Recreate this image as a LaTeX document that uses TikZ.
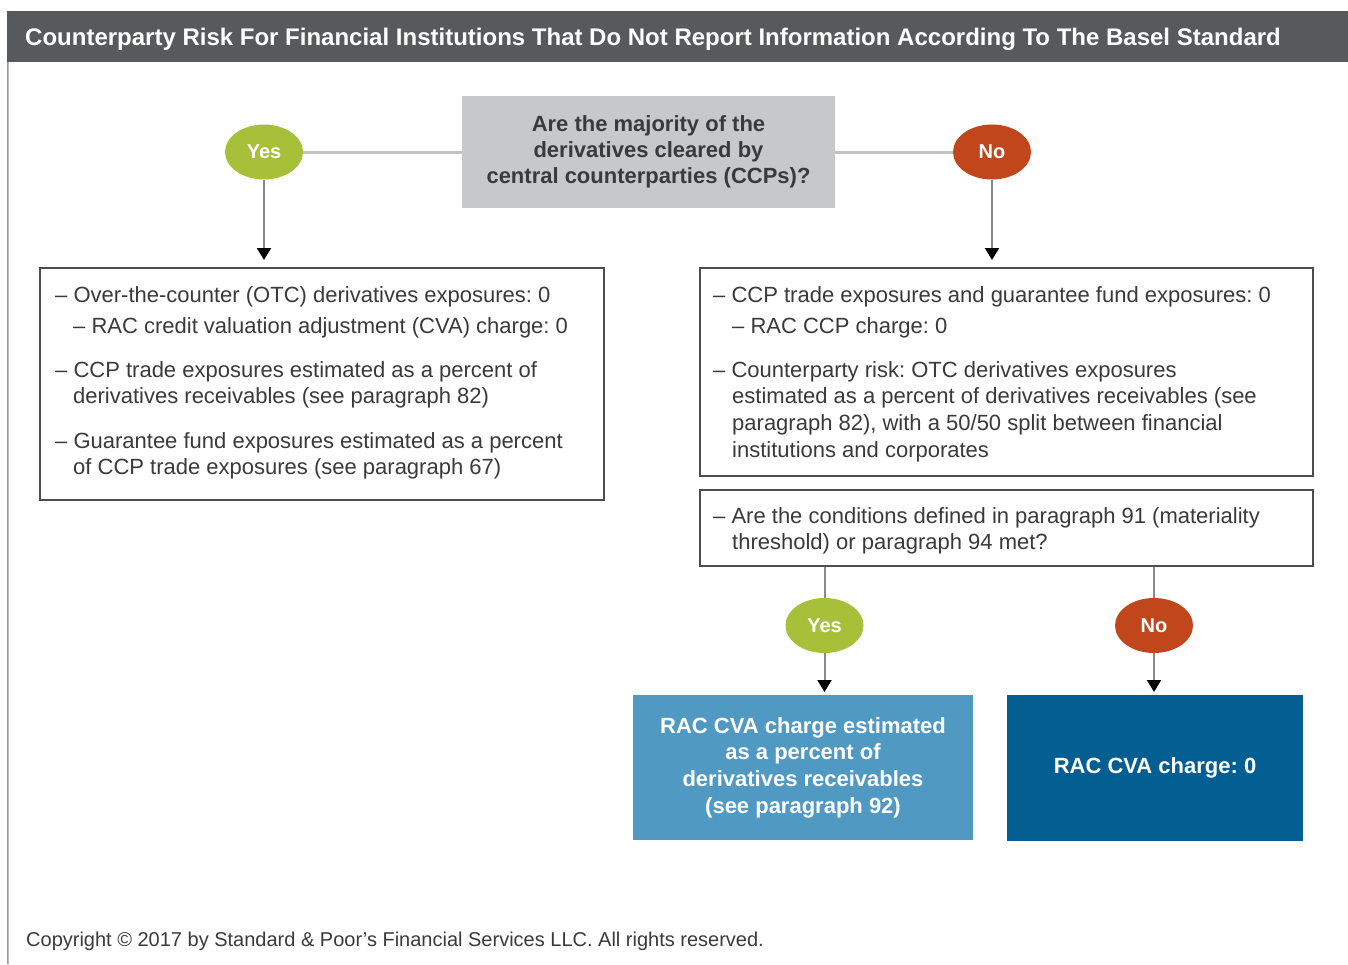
\documentclass[tikz,border=0pt]{standalone}
\usepackage{fontspec}
\setmainfont{Liberation Sans}
\frenchspacing
\usetikzlibrary{shapes.geometric,arrows.meta}
\definecolor{titlegray}{HTML}{58595B}
\definecolor{qgray}{HTML}{C7C8CA}
\definecolor{yesgreen}{HTML}{A6C03A}
\definecolor{nored}{HTML}{C1461B}
\definecolor{lightblue}{HTML}{4F99C3}
\definecolor{darkblue}{HTML}{035E91}
\definecolor{txtgray}{HTML}{3A3A3A}
\definecolor{boxgray}{HTML}{4D4D4D}
\definecolor{linkgray}{HTML}{C2C2C2}
\definecolor{arrgray}{HTML}{8A8A8A}
\begin{document}
\begin{tikzpicture}[x=1pt,y=-1pt,
  txt/.style={font=\fontsize{22}{26}\selectfont, text=txtgray, inner sep=0pt, anchor=base west},
  tbox/.style={draw=boxgray, line width=1.5pt, fill=white, inner sep=0pt},
  yesc/.style={ellipse, fill=yesgreen, minimum width=78pt, minimum height=55pt, inner sep=0pt, text=white, font=\bfseries\fontsize{20}{24}\selectfont},
  noc/.style={yesc, fill=nored},
  link/.style={draw=linkgray, line width=3pt},
  arr/.style={draw=arrgray, line width=2pt, -{Triangle[width=14pt,length=12pt,color=black]}},
  fbox/.style={inner sep=0pt, align=center, text=white, font=\bfseries\fontsize{22}{26.7}\selectfont}
]
\useasboundingbox (0,0) rectangle (1348,964);
\fill[white] (0,0) rectangle (1348,964);
% title bar
\node[fill=titlegray, minimum width=1341pt, minimum height=51pt, inner sep=0pt] (title) at (677.5,36.5) {};
\node[anchor=base west, inner sep=0pt, text=white, font=\bfseries\fontsize{24}{28}\selectfont] (titletext) at (25,45) {Counterparty Risk For Financial Institutions That Do Not Report Information According To The Basel Standard};
\draw[linkgray!80!black, line width=1.5pt] (title.south west) ++(1,0) coordinate (lb1) -- (8,964) coordinate (lb2);
% question
\node[fill=qgray, minimum width=373pt, minimum height=112pt, inner sep=0pt, align=center, text=txtgray, font=\bfseries\fontsize{22}{26}\selectfont] (q) at (648.5,152) {Are the majority of the\\derivatives cleared by\\central counterparties (CCPs)?};
\node[yesc] (yes1) at (264,152) {Yes};
\node[noc] (no1) at (992,152) {No};
\draw[link] (yes1.east) -- (yes1.east -| q.west);
\draw[link] (no1.west -| q.east) -- (no1.west);
\coordinate (a1) at (264,260);
\coordinate (a2) at (992,260);
\draw[arr] (yes1.south) -- (a1);
\draw[arr] (no1.south) -- (a2);
% left box
\node[tbox, minimum width=564pt, minimum height=232pt] (lbox) at (322,384) {};
\node[txt] (l1) at (55,302) {– Over-the-counter (OTC) derivatives exposures: 0};
\node[txt] (l2) at (73,333) {– RAC credit valuation adjustment (CVA) charge: 0};
\node[txt] (l3) at (55,377) {– CCP trade exposures estimated as a percent of};
\node[txt] (l4) at (73,403) {derivatives receivables (see paragraph 82)};
\node[txt] (l5) at (55,448) {– Guarantee fund exposures estimated as a percent};
\node[txt] (l6) at (73,474) {of CCP trade exposures (see paragraph 67)};
% right box 1
\node[tbox, minimum width=613pt, minimum height=208pt] (rbox) at (1006.5,372) {};
\node[txt] (r1) at (713,302) {– CCP trade exposures and guarantee fund exposures: 0};
\node[txt] (r2) at (732,333) {– RAC CCP charge: 0};
\node[txt] (r3) at (713,377) {– Counterparty risk: OTC derivatives exposures};
\node[txt] (r4) at (732,403) {estimated as a percent of derivatives receivables (see};
\node[txt] (r5) at (732,430) {paragraph 82), with a 50/50 split between financial};
\node[txt] (r6) at (732,457) {institutions and corporates};
% right box 2
\node[tbox, minimum width=613pt, minimum height=76pt] (cbox) at (1006.5,528) {};
\node[txt] (c1) at (713,523) {– Are the conditions defined in paragraph 91 (materiality};
\node[txt] (c2) at (732,549) {threshold) or paragraph 94 met?};
% second decision
\node[yesc] (yes2) at (824.5,625.5) {Yes};
\node[noc] (no2) at (1154,625.5) {No};
\draw[arrgray, line width=2pt] (yes2.north |- cbox.south) -- (yes2.north);
\draw[arrgray, line width=2pt] (no2.north |- cbox.south) -- (no2.north);
\coordinate (a3) at (824.5,692);
\coordinate (a4) at (1154,692);
\draw[arr] (yes2.south) -- (a3);
\draw[arr] (no2.south) -- (a4);
% result boxes
\node[fbox, fill=lightblue, minimum width=340pt, minimum height=145pt] (res1) at (803,767.5) {RAC CVA charge estimated\\as a percent of\\derivatives receivables\\(see paragraph 92)};
\node[fbox, fill=darkblue, minimum width=296pt, minimum height=146pt] (res2) at (1155,768) {RAC CVA charge: 0};
% copyright
\node[anchor=base west, inner sep=0pt, text=txtgray, font=\fontsize{20}{24}\selectfont] (copy) at (26,946) {Copyright © 2017 by Standard \& Poor’s Financial Services LLC. All rights reserved.};
\end{tikzpicture}
\end{document}
